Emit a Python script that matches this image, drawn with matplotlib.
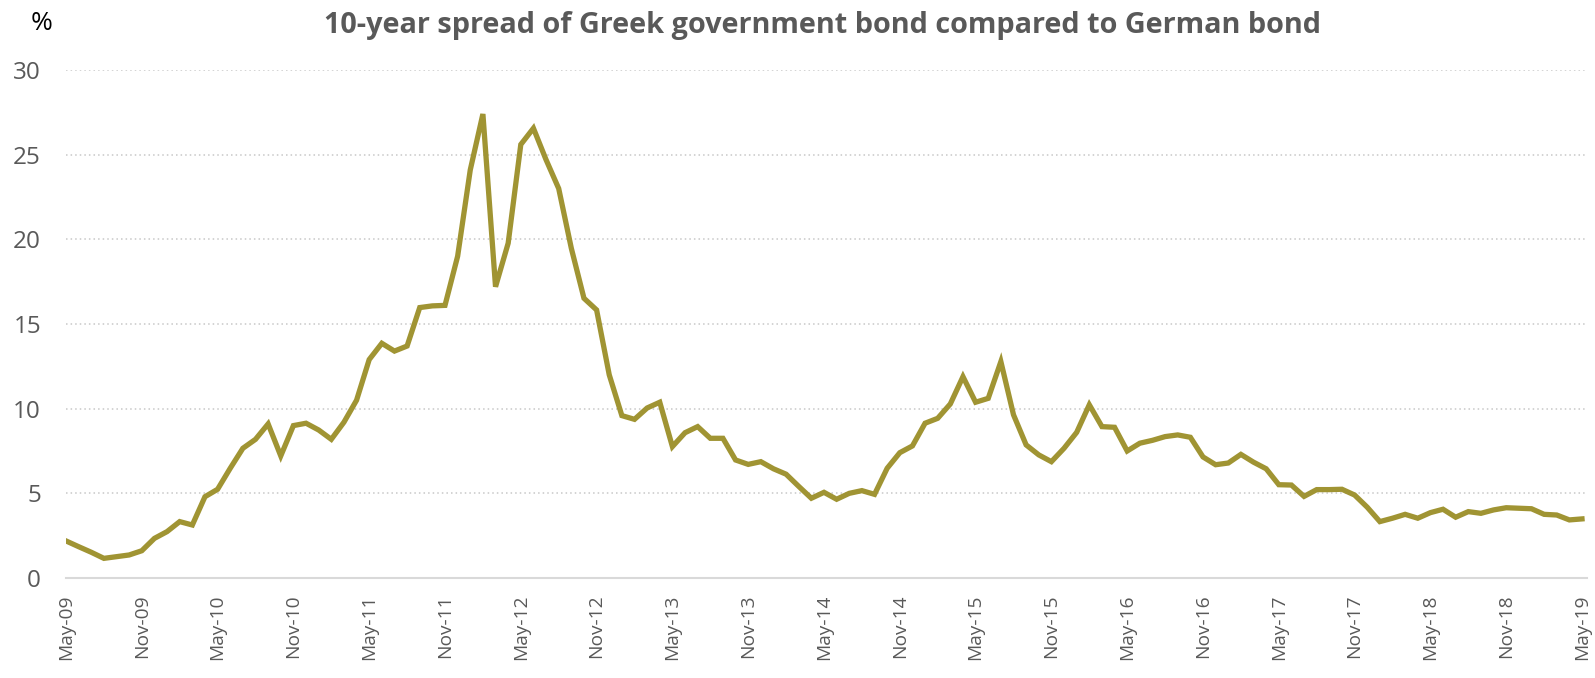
import matplotlib
matplotlib.use("Agg")
import matplotlib.pyplot as plt
import numpy as np

# Monthly spread values, May-09 .. May-19 (percentage points)
spread = [
    2.19, 1.85, 1.52, 1.16, 1.26, 1.36, 1.61, 2.34, 2.74, 3.33,
    3.13, 4.80, 5.24, 6.48, 7.66, 8.19, 9.10, 7.21, 9.00, 9.14,
    8.74, 8.19, 9.20, 10.50, 12.90, 13.86, 13.40, 13.70, 15.97, 16.07,
    16.10, 19.00, 24.10, 27.40, 17.20, 19.77, 25.60, 26.56, 24.70, 23.00,
    19.47, 16.52, 15.83, 12.00, 9.59, 9.37, 10.04, 10.38, 7.76, 8.58,
    8.94, 8.25, 8.25, 6.97, 6.71, 6.87, 6.45, 6.13, 5.41, 4.71,
    5.06, 4.65, 5.00, 5.16, 4.94, 6.48, 7.40, 7.80, 9.14, 9.43,
    10.28, 11.89, 10.38, 10.61, 12.78, 9.64, 7.86, 7.27, 6.87, 7.66,
    8.60, 10.23, 8.94, 8.90, 7.50, 7.96, 8.13, 8.35, 8.45, 8.31,
    7.15, 6.69, 6.79, 7.30, 6.84, 6.45, 5.51, 5.49, 4.82, 5.22,
    5.22, 5.24, 4.90, 4.18, 3.33, 3.53, 3.76, 3.53, 3.86, 4.06,
    3.59, 3.92, 3.82, 4.02, 4.15, 4.12, 4.09, 3.76, 3.72, 3.43,
    3.49,
]
tick_labels = ["May-09", "Nov-09", "May-10", "Nov-10", "May-11", "Nov-11",
               "May-12", "Nov-12", "May-13", "Nov-13", "May-14", "Nov-14",
               "May-15", "Nov-15", "May-16", "Nov-16", "May-17", "Nov-17",
               "May-18", "Nov-18", "May-19"]
y_ticks = [0, 5, 10, 15, 20, 25, 30]
title = "10-year spread of Greek government bond compared to German bond"

plt.rcParams['font.family'] = ['Open Sans', 'DejaVu Sans']

W, H = 1595, 678
fig = plt.figure(figsize=(W / 100, H / 100), dpi=100)
left, right, top, bottom = 66, 1587, 70, 578
ax = fig.add_axes([left / W, 1 - bottom / H, (right - left) / W, (bottom - top) / H])

x = np.arange(len(spread))
ax.plot(x, spread, color="#A09433", lw=3.8, solid_joinstyle="miter", zorder=3)

ax.set_ylim(0, 30)
ax.set_xlim(0, (len(spread) - 1) * (right - left) / (1582 - left))
ax.set_yticks(y_ticks)
ax.set_yticklabels([str(v) for v in y_ticks])
ax.set_xticks(np.arange(0, len(spread), 6))
ax.set_xticklabels(tick_labels, rotation=90)

for v in y_ticks[1:]:
    ax.axhline(v, color="#C8C8C8", lw=1.1, ls=(0, (1, 2)), zorder=1)

for s in ["top", "right", "left"]:
    ax.spines[s].set_visible(False)
ax.spines["bottom"].set_color("#D9D9D9")
ax.spines["bottom"].set_linewidth(1.5)

ax.tick_params(axis="y", length=0, pad=18, labelsize=17.5, labelcolor="#595959")
ax.tick_params(axis="x", length=0, pad=12, labelsize=13.8, labelcolor="#595959")

fig.text(822 / W, 1 - 26 / H, title, ha="center", va="center",
         fontsize=20.8, fontweight="bold", color="#595959")
fig.text(42 / W, 1 - 24 / H, "%", ha="center", va="center",
         fontsize=19, color="black")

fig.savefig("out.png", dpi=100)
